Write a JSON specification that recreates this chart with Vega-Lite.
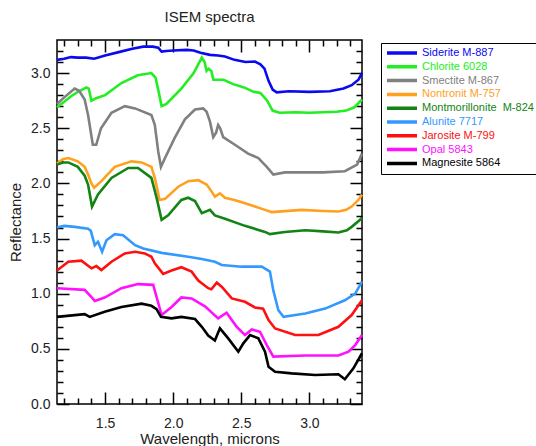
{
"$schema": "https://vega.github.io/schema/vega-lite/v6.json",
"width": 305, "height": 364,
"autosize": {"type": "none"},
"padding": {"left": 57, "top": 40, "right": 174, "bottom": 42},
"background": "white",
"title": {"text": "ISEM spectra", "fontSize": 15, "font": "Liberation Sans", "fontWeight": "normal", "color": "#222222", "offset": 14, "anchor": "middle"},
"config": {"view": {"stroke": "black", "strokeWidth": 1.5}, "font": "Liberation Sans"},
"datasets": {"s": [
{"m":"Siderite M-887","w":1.147,"r":3.12},{"m":"Siderite M-887","w":1.2,"r":3.13},{"m":"Siderite M-887","w":1.25,"r":3.145},{"m":"Siderite M-887","w":1.3,"r":3.14},{"m":"Siderite M-887","w":1.36,"r":3.14},{"m":"Siderite M-887","w":1.42,"r":3.13},{"m":"Siderite M-887","w":1.5,"r":3.16},{"m":"Siderite M-887","w":1.6,"r":3.19},{"m":"Siderite M-887","w":1.7,"r":3.22},{"m":"Siderite M-887","w":1.78,"r":3.24},{"m":"Siderite M-887","w":1.85,"r":3.24},{"m":"Siderite M-887","w":1.89,"r":3.23},{"m":"Siderite M-887","w":1.915,"r":3.195},{"m":"Siderite M-887","w":1.95,"r":3.2},{"m":"Siderite M-887","w":2.0,"r":3.205},{"m":"Siderite M-887","w":2.1,"r":3.21},{"m":"Siderite M-887","w":2.15,"r":3.205},{"m":"Siderite M-887","w":2.2,"r":3.185},{"m":"Siderite M-887","w":2.27,"r":3.165},{"m":"Siderite M-887","w":2.33,"r":3.16},{"m":"Siderite M-887","w":2.38,"r":3.15},{"m":"Siderite M-887","w":2.45,"r":3.12},{"m":"Siderite M-887","w":2.53,"r":3.1},{"m":"Siderite M-887","w":2.6,"r":3.105},{"m":"Siderite M-887","w":2.64,"r":3.08},{"m":"Siderite M-887","w":2.67,"r":3.04},{"m":"Siderite M-887","w":2.7,"r":2.93},{"m":"Siderite M-887","w":2.73,"r":2.85},{"m":"Siderite M-887","w":2.76,"r":2.825},{"m":"Siderite M-887","w":2.85,"r":2.835},{"m":"Siderite M-887","w":3.0,"r":2.83},{"m":"Siderite M-887","w":3.15,"r":2.835},{"m":"Siderite M-887","w":3.25,"r":2.86},{"m":"Siderite M-887","w":3.31,"r":2.89},{"m":"Siderite M-887","w":3.36,"r":2.94},{"m":"Siderite M-887","w":3.386,"r":3.0},
{"m":"Chlorite 6028","w":1.147,"r":2.69},{"m":"Chlorite 6028","w":1.2,"r":2.74},{"m":"Chlorite 6028","w":1.25,"r":2.79},{"m":"Chlorite 6028","w":1.3,"r":2.83},{"m":"Chlorite 6028","w":1.363,"r":2.87},{"m":"Chlorite 6028","w":1.38,"r":2.86},{"m":"Chlorite 6028","w":1.4,"r":2.75},{"m":"Chlorite 6028","w":1.43,"r":2.77},{"m":"Chlorite 6028","w":1.5,"r":2.8},{"m":"Chlorite 6028","w":1.62,"r":2.91},{"m":"Chlorite 6028","w":1.74,"r":2.98},{"m":"Chlorite 6028","w":1.84,"r":3.0},{"m":"Chlorite 6028","w":1.87,"r":2.96},{"m":"Chlorite 6028","w":1.89,"r":2.85},{"m":"Chlorite 6028","w":1.915,"r":2.7},{"m":"Chlorite 6028","w":1.95,"r":2.72},{"m":"Chlorite 6028","w":2.06,"r":2.86},{"m":"Chlorite 6028","w":2.15,"r":3.0},{"m":"Chlorite 6028","w":2.21,"r":3.14},{"m":"Chlorite 6028","w":2.23,"r":3.1},{"m":"Chlorite 6028","w":2.245,"r":3.02},{"m":"Chlorite 6028","w":2.26,"r":3.04},{"m":"Chlorite 6028","w":2.28,"r":3.02},{"m":"Chlorite 6028","w":2.295,"r":2.94},{"m":"Chlorite 6028","w":2.37,"r":2.94},{"m":"Chlorite 6028","w":2.44,"r":2.9},{"m":"Chlorite 6028","w":2.52,"r":2.87},{"m":"Chlorite 6028","w":2.59,"r":2.83},{"m":"Chlorite 6028","w":2.64,"r":2.82},{"m":"Chlorite 6028","w":2.69,"r":2.75},{"m":"Chlorite 6028","w":2.73,"r":2.66},{"m":"Chlorite 6028","w":2.78,"r":2.64},{"m":"Chlorite 6028","w":2.9,"r":2.645},{"m":"Chlorite 6028","w":3.0,"r":2.64},{"m":"Chlorite 6028","w":3.1,"r":2.645},{"m":"Chlorite 6028","w":3.2,"r":2.65},{"m":"Chlorite 6028","w":3.27,"r":2.66},{"m":"Chlorite 6028","w":3.33,"r":2.69},{"m":"Chlorite 6028","w":3.37,"r":2.74},{"m":"Chlorite 6028","w":3.386,"r":2.76},
{"m":"Smectite M-867","w":1.147,"r":2.72},{"m":"Smectite M-867","w":1.2,"r":2.78},{"m":"Smectite M-867","w":1.277,"r":2.86},{"m":"Smectite M-867","w":1.31,"r":2.84},{"m":"Smectite M-867","w":1.35,"r":2.76},{"m":"Smectite M-867","w":1.375,"r":2.62},{"m":"Smectite M-867","w":1.41,"r":2.35},{"m":"Smectite M-867","w":1.435,"r":2.35},{"m":"Smectite M-867","w":1.47,"r":2.5},{"m":"Smectite M-867","w":1.547,"r":2.64},{"m":"Smectite M-867","w":1.645,"r":2.7},{"m":"Smectite M-867","w":1.72,"r":2.68},{"m":"Smectite M-867","w":1.84,"r":2.62},{"m":"Smectite M-867","w":1.865,"r":2.53},{"m":"Smectite M-867","w":1.89,"r":2.29},{"m":"Smectite M-867","w":1.91,"r":2.15},{"m":"Smectite M-867","w":1.94,"r":2.23},{"m":"Smectite M-867","w":2.01,"r":2.41},{"m":"Smectite M-867","w":2.086,"r":2.58},{"m":"Smectite M-867","w":2.16,"r":2.67},{"m":"Smectite M-867","w":2.22,"r":2.68},{"m":"Smectite M-867","w":2.245,"r":2.65},{"m":"Smectite M-867","w":2.27,"r":2.56},{"m":"Smectite M-867","w":2.294,"r":2.42},{"m":"Smectite M-867","w":2.315,"r":2.46},{"m":"Smectite M-867","w":2.33,"r":2.53},{"m":"Smectite M-867","w":2.345,"r":2.5},{"m":"Smectite M-867","w":2.367,"r":2.42},{"m":"Smectite M-867","w":2.453,"r":2.35},{"m":"Smectite M-867","w":2.55,"r":2.27},{"m":"Smectite M-867","w":2.625,"r":2.23},{"m":"Smectite M-867","w":2.687,"r":2.15},{"m":"Smectite M-867","w":2.735,"r":2.08},{"m":"Smectite M-867","w":2.82,"r":2.1},{"m":"Smectite M-867","w":3.0,"r":2.1},{"m":"Smectite M-867","w":3.1,"r":2.1},{"m":"Smectite M-867","w":3.26,"r":2.11},{"m":"Smectite M-867","w":3.35,"r":2.17},{"m":"Smectite M-867","w":3.386,"r":2.27},
{"m":"Nontronit M-757","w":1.147,"r":2.18},{"m":"Nontronit M-757","w":1.19,"r":2.22},{"m":"Nontronit M-757","w":1.23,"r":2.23},{"m":"Nontronit M-757","w":1.3,"r":2.2},{"m":"Nontronit M-757","w":1.35,"r":2.15},{"m":"Nontronit M-757","w":1.375,"r":2.08},{"m":"Nontronit M-757","w":1.4,"r":2.0},{"m":"Nontronit M-757","w":1.42,"r":1.96},{"m":"Nontronit M-757","w":1.473,"r":2.02},{"m":"Nontronit M-757","w":1.571,"r":2.15},{"m":"Nontronit M-757","w":1.694,"r":2.2},{"m":"Nontronit M-757","w":1.768,"r":2.19},{"m":"Nontronit M-757","w":1.84,"r":2.15},{"m":"Nontronit M-757","w":1.865,"r":2.05},{"m":"Nontronit M-757","w":1.9,"r":1.85},{"m":"Nontronit M-757","w":1.94,"r":1.86},{"m":"Nontronit M-757","w":2.037,"r":1.97},{"m":"Nontronit M-757","w":2.11,"r":2.02},{"m":"Nontronit M-757","w":2.184,"r":2.03},{"m":"Nontronit M-757","w":2.245,"r":1.99},{"m":"Nontronit M-757","w":2.28,"r":1.93},{"m":"Nontronit M-757","w":2.306,"r":1.88},{"m":"Nontronit M-757","w":2.343,"r":1.91},{"m":"Nontronit M-757","w":2.38,"r":1.87},{"m":"Nontronit M-757","w":2.45,"r":1.85},{"m":"Nontronit M-757","w":2.527,"r":1.82},{"m":"Nontronit M-757","w":2.6,"r":1.79},{"m":"Nontronit M-757","w":2.674,"r":1.76},{"m":"Nontronit M-757","w":2.723,"r":1.74},{"m":"Nontronit M-757","w":2.944,"r":1.76},{"m":"Nontronit M-757","w":3.1,"r":1.75},{"m":"Nontronit M-757","w":3.213,"r":1.745},{"m":"Nontronit M-757","w":3.27,"r":1.76},{"m":"Nontronit M-757","w":3.31,"r":1.79},{"m":"Nontronit M-757","w":3.36,"r":1.85},{"m":"Nontronit M-757","w":3.386,"r":1.9},
{"m":"Montmorillonite \u00a0M-824","w":1.147,"r":2.17},{"m":"Montmorillonite \u00a0M-824","w":1.19,"r":2.19},{"m":"Montmorillonite \u00a0M-824","w":1.23,"r":2.19},{"m":"Montmorillonite \u00a0M-824","w":1.3,"r":2.15},{"m":"Montmorillonite \u00a0M-824","w":1.35,"r":2.07},{"m":"Montmorillonite \u00a0M-824","w":1.375,"r":1.99},{"m":"Montmorillonite \u00a0M-824","w":1.404,"r":1.79},{"m":"Montmorillonite \u00a0M-824","w":1.448,"r":1.9},{"m":"Montmorillonite \u00a0M-824","w":1.547,"r":2.05},{"m":"Montmorillonite \u00a0M-824","w":1.67,"r":2.14},{"m":"Montmorillonite \u00a0M-824","w":1.742,"r":2.14},{"m":"Montmorillonite \u00a0M-824","w":1.84,"r":2.05},{"m":"Montmorillonite \u00a0M-824","w":1.878,"r":1.87},{"m":"Montmorillonite \u00a0M-824","w":1.915,"r":1.67},{"m":"Montmorillonite \u00a0M-824","w":1.963,"r":1.71},{"m":"Montmorillonite \u00a0M-824","w":2.06,"r":1.85},{"m":"Montmorillonite \u00a0M-824","w":2.11,"r":1.87},{"m":"Montmorillonite \u00a0M-824","w":2.16,"r":1.84},{"m":"Montmorillonite \u00a0M-824","w":2.21,"r":1.73},{"m":"Montmorillonite \u00a0M-824","w":2.27,"r":1.76},{"m":"Montmorillonite \u00a0M-824","w":2.306,"r":1.71},{"m":"Montmorillonite \u00a0M-824","w":2.38,"r":1.68},{"m":"Montmorillonite \u00a0M-824","w":2.527,"r":1.615},{"m":"Montmorillonite \u00a0M-824","w":2.674,"r":1.56},{"m":"Montmorillonite \u00a0M-824","w":2.71,"r":1.54},{"m":"Montmorillonite \u00a0M-824","w":2.82,"r":1.56},{"m":"Montmorillonite \u00a0M-824","w":2.97,"r":1.575},{"m":"Montmorillonite \u00a0M-824","w":3.1,"r":1.565},{"m":"Montmorillonite \u00a0M-824","w":3.213,"r":1.555},{"m":"Montmorillonite \u00a0M-824","w":3.275,"r":1.575},{"m":"Montmorillonite \u00a0M-824","w":3.31,"r":1.606},{"m":"Montmorillonite \u00a0M-824","w":3.37,"r":1.667},{"m":"Montmorillonite \u00a0M-824","w":3.386,"r":1.69},
{"m":"Alunite 7717","w":1.147,"r":1.6},{"m":"Alunite 7717","w":1.2,"r":1.615},{"m":"Alunite 7717","w":1.277,"r":1.606},{"m":"Alunite 7717","w":1.375,"r":1.59},{"m":"Alunite 7717","w":1.395,"r":1.57},{"m":"Alunite 7717","w":1.424,"r":1.44},{"m":"Alunite 7717","w":1.448,"r":1.47},{"m":"Alunite 7717","w":1.478,"r":1.38},{"m":"Alunite 7717","w":1.51,"r":1.485},{"m":"Alunite 7717","w":1.571,"r":1.54},{"m":"Alunite 7717","w":1.632,"r":1.53},{"m":"Alunite 7717","w":1.72,"r":1.44},{"m":"Alunite 7717","w":1.78,"r":1.41},{"m":"Alunite 7717","w":1.915,"r":1.37},{"m":"Alunite 7717","w":2.11,"r":1.335},{"m":"Alunite 7717","w":2.21,"r":1.315},{"m":"Alunite 7717","w":2.306,"r":1.29},{"m":"Alunite 7717","w":2.356,"r":1.26},{"m":"Alunite 7717","w":2.503,"r":1.245},{"m":"Alunite 7717","w":2.65,"r":1.245},{"m":"Alunite 7717","w":2.71,"r":1.2},{"m":"Alunite 7717","w":2.735,"r":1.03},{"m":"Alunite 7717","w":2.772,"r":0.85},{"m":"Alunite 7717","w":2.81,"r":0.79},{"m":"Alunite 7717","w":2.97,"r":0.82},{"m":"Alunite 7717","w":3.115,"r":0.865},{"m":"Alunite 7717","w":3.26,"r":0.94},{"m":"Alunite 7717","w":3.336,"r":1.0},{"m":"Alunite 7717","w":3.386,"r":1.11},
{"m":"Jarosite M-799","w":1.147,"r":1.21},{"m":"Jarosite M-799","w":1.23,"r":1.29},{"m":"Jarosite M-799","w":1.326,"r":1.3},{"m":"Jarosite M-799","w":1.4,"r":1.23},{"m":"Jarosite M-799","w":1.436,"r":1.25},{"m":"Jarosite M-799","w":1.473,"r":1.214},{"m":"Jarosite M-799","w":1.547,"r":1.29},{"m":"Jarosite M-799","w":1.645,"r":1.365},{"m":"Jarosite M-799","w":1.72,"r":1.38},{"m":"Jarosite M-799","w":1.792,"r":1.365},{"m":"Jarosite M-799","w":1.84,"r":1.335},{"m":"Jarosite M-799","w":1.865,"r":1.275},{"m":"Jarosite M-799","w":1.926,"r":1.18},{"m":"Jarosite M-799","w":1.988,"r":1.21},{"m":"Jarosite M-799","w":2.06,"r":1.24},{"m":"Jarosite M-799","w":2.135,"r":1.2},{"m":"Jarosite M-799","w":2.184,"r":1.12},{"m":"Jarosite M-799","w":2.257,"r":1.05},{"m":"Jarosite M-799","w":2.28,"r":1.04},{"m":"Jarosite M-799","w":2.32,"r":1.1},{"m":"Jarosite M-799","w":2.356,"r":1.063},{"m":"Jarosite M-799","w":2.43,"r":0.957},{"m":"Jarosite M-799","w":2.527,"r":0.927},{"m":"Jarosite M-799","w":2.6,"r":0.875},{"m":"Jarosite M-799","w":2.66,"r":0.865},{"m":"Jarosite M-799","w":2.7,"r":0.76},{"m":"Jarosite M-799","w":2.748,"r":0.685},{"m":"Jarosite M-799","w":2.895,"r":0.625},{"m":"Jarosite M-799","w":3.066,"r":0.625},{"m":"Jarosite M-799","w":3.213,"r":0.7},{"m":"Jarosite M-799","w":3.31,"r":0.806},{"m":"Jarosite M-799","w":3.386,"r":0.94},
{"m":"Opal 5843","w":1.147,"r":1.05},{"m":"Opal 5843","w":1.35,"r":1.035},{"m":"Opal 5843","w":1.4,"r":0.97},{"m":"Opal 5843","w":1.424,"r":0.935},{"m":"Opal 5843","w":1.497,"r":0.965},{"m":"Opal 5843","w":1.62,"r":1.05},{"m":"Opal 5843","w":1.742,"r":1.087},{"m":"Opal 5843","w":1.853,"r":1.08},{"m":"Opal 5843","w":1.878,"r":0.97},{"m":"Opal 5843","w":1.915,"r":0.806},{"m":"Opal 5843","w":1.988,"r":0.88},{"m":"Opal 5843","w":2.06,"r":0.966},{"m":"Opal 5843","w":2.135,"r":0.957},{"m":"Opal 5843","w":2.233,"r":0.885},{"m":"Opal 5843","w":2.33,"r":0.776},{"m":"Opal 5843","w":2.392,"r":0.827},{"m":"Opal 5843","w":2.466,"r":0.7},{"m":"Opal 5843","w":2.527,"r":0.625},{"m":"Opal 5843","w":2.577,"r":0.676},{"m":"Opal 5843","w":2.637,"r":0.655},{"m":"Opal 5843","w":2.687,"r":0.534},{"m":"Opal 5843","w":2.735,"r":0.43},{"m":"Opal 5843","w":2.97,"r":0.44},{"m":"Opal 5843","w":3.213,"r":0.44},{"m":"Opal 5843","w":3.287,"r":0.475},{"m":"Opal 5843","w":3.336,"r":0.534},{"m":"Opal 5843","w":3.386,"r":0.625},
{"m":"Magnesite 5864","w":1.147,"r":0.79},{"m":"Magnesite 5864","w":1.35,"r":0.815},{"m":"Magnesite 5864","w":1.387,"r":0.79},{"m":"Magnesite 5864","w":1.497,"r":0.836},{"m":"Magnesite 5864","w":1.62,"r":0.88},{"m":"Magnesite 5864","w":1.768,"r":0.91},{"m":"Magnesite 5864","w":1.84,"r":0.89},{"m":"Magnesite 5864","w":1.878,"r":0.86},{"m":"Magnesite 5864","w":1.91,"r":0.79},{"m":"Magnesite 5864","w":1.988,"r":0.776},{"m":"Magnesite 5864","w":2.06,"r":0.79},{"m":"Magnesite 5864","w":2.16,"r":0.77},{"m":"Magnesite 5864","w":2.21,"r":0.7},{"m":"Magnesite 5864","w":2.257,"r":0.62},{"m":"Magnesite 5864","w":2.306,"r":0.575},{"m":"Magnesite 5864","w":2.343,"r":0.686},{"m":"Magnesite 5864","w":2.404,"r":0.595},{"m":"Magnesite 5864","w":2.478,"r":0.474},{"m":"Magnesite 5864","w":2.515,"r":0.55},{"m":"Magnesite 5864","w":2.564,"r":0.625},{"m":"Magnesite 5864","w":2.625,"r":0.595},{"m":"Magnesite 5864","w":2.674,"r":0.474},{"m":"Magnesite 5864","w":2.7,"r":0.338},{"m":"Magnesite 5864","w":2.748,"r":0.293},{"m":"Magnesite 5864","w":2.87,"r":0.278},{"m":"Magnesite 5864","w":3.042,"r":0.263},{"m":"Magnesite 5864","w":3.213,"r":0.27},{"m":"Magnesite 5864","w":3.26,"r":0.224},{"m":"Magnesite 5864","w":3.323,"r":0.323},{"m":"Magnesite 5864","w":3.386,"r":0.46}
]},
"data": {"name": "s"},
"resolve": {"axis": {"x": "independent", "y": "independent"}},
"layer": [
{"mark": {"type": "line", "strokeWidth": 2.6},
 "encoding": {
  "x": {"field": "w", "type": "quantitative", "scale": {"domain": [1.147, 3.386], "nice": false, "zero": false},
        "axis": {"orient": "bottom", "values": [1.5, 2.0, 2.5, 3.0], "format": ".1f", "tickSize": -12, "tickWidth": 1.5, "tickColor": "black", "labelPadding": 24, "domain": false, "grid": false,
                 "labelFont": "Liberation Sans", "labelFontSize": 14, "labelColor": "#222222",
                 "title": "Wavelength,  microns", "titleFont": "Liberation Sans", "titleFontSize": 15, "titleFontWeight": "normal", "titleColor": "#222222", "titlePadding": 1}},
  "y": {"field": "r", "type": "quantitative", "scale": {"domain": [0, 3.3], "nice": false},
        "axis": {"orient": "left", "values": [0, 0.5, 1.0, 1.5, 2.0, 2.5, 3.0], "format": ".1f", "tickSize": -12, "tickWidth": 1.5, "tickColor": "black", "labelPadding": 19, "domain": false, "grid": false,
                 "labelFont": "Liberation Sans", "labelFontSize": 14, "labelColor": "#222222",
                 "title": "Reflectance", "titleFont": "Liberation Sans", "titleFontSize": 15, "titleFontWeight": "normal", "titleColor": "#222222", "titlePadding": 7}},
  "color": {"field": "m", "type": "nominal",
    "scale": {"domain": ["Siderite M-887", "Chlorite 6028", "Smectite M-867", "Nontronit M-757", "Montmorillonite \u00a0M-824", "Alunite 7717", "Jarosite M-799", "Opal 5843", "Magnesite 5864"],
              "range": ["#0a0af0", "#22ee22", "#808080", "#ffa01e", "#138413", "#3399ff", "#ff1010", "#ff10ff", "#000000"]},
    "legend": {"orient": "none", "legendX": 324, "legendY": 3, "title": null, "strokeColor": "black", "fillColor": "white", "padding": 4,
               "symbolType": "stroke", "symbolStrokeWidth": 3.5, "symbolSize": 900, "labelFont": "Liberation Sans", "labelFontSize": 11, "labelOffset": 3,
               "rowPadding": 1.8, "clipHeight": 12, "labelLimit": 200,
               "encode": {"labels": {"update": {"fill": {"scale": "color", "field": "value"}}}}}}
 }},
{"mark": {"type": "point", "opacity": 0},
 "encoding": {
  "x": {"field": "w", "type": "quantitative", "axis": {"orient": "bottom", "values": [1.2,1.3,1.4,1.6,1.7,1.8,1.9,2.1,2.2,2.3,2.4,2.6,2.7,2.8,2.9,3.1,3.2,3.3], "tickSize": -6, "tickWidth": 1.5, "tickColor": "black", "labels": false, "domain": false, "grid": false, "title": null}},
  "y": {"field": "r", "type": "quantitative", "axis": {"orient": "left", "values": [0.1,0.2,0.3,0.4,0.6,0.7,0.8,0.9,1.1,1.2,1.3,1.4,1.6,1.7,1.8,1.9,2.1,2.2,2.3,2.4,2.6,2.7,2.8,2.9,3.1,3.2], "tickSize": -6, "tickWidth": 1.5, "tickColor": "black", "labels": false, "domain": false, "grid": false, "title": null}}
 }},
{"mark": {"type": "point", "opacity": 0},
 "encoding": {
  "x": {"field": "w", "type": "quantitative", "axis": {"orient": "top", "values": [1.5, 2.0, 2.5, 3.0], "tickSize": -12, "tickWidth": 1.5, "tickColor": "black", "labels": false, "domain": false, "grid": false, "title": null}},
  "y": {"field": "r", "type": "quantitative", "axis": {"orient": "right", "values": [0, 0.5, 1.0, 1.5, 2.0, 2.5, 3.0], "tickSize": -12, "tickWidth": 1.5, "tickColor": "black", "labels": false, "domain": false, "grid": false, "title": null}}
 }},
{"mark": {"type": "point", "opacity": 0},
 "encoding": {
  "x": {"field": "w", "type": "quantitative", "axis": {"orient": "top", "values": [1.2,1.3,1.4,1.6,1.7,1.8,1.9,2.1,2.2,2.3,2.4,2.6,2.7,2.8,2.9,3.1,3.2,3.3], "tickSize": -6, "tickWidth": 1.5, "tickColor": "black", "labels": false, "domain": false, "grid": false, "title": null}},
  "y": {"field": "r", "type": "quantitative", "axis": {"orient": "right", "values": [0.1,0.2,0.3,0.4,0.6,0.7,0.8,0.9,1.1,1.2,1.3,1.4,1.6,1.7,1.8,1.9,2.1,2.2,2.3,2.4,2.6,2.7,2.8,2.9,3.1,3.2], "tickSize": -6, "tickWidth": 1.5, "tickColor": "black", "labels": false, "domain": false, "grid": false, "title": null}}
 }}
]
}
